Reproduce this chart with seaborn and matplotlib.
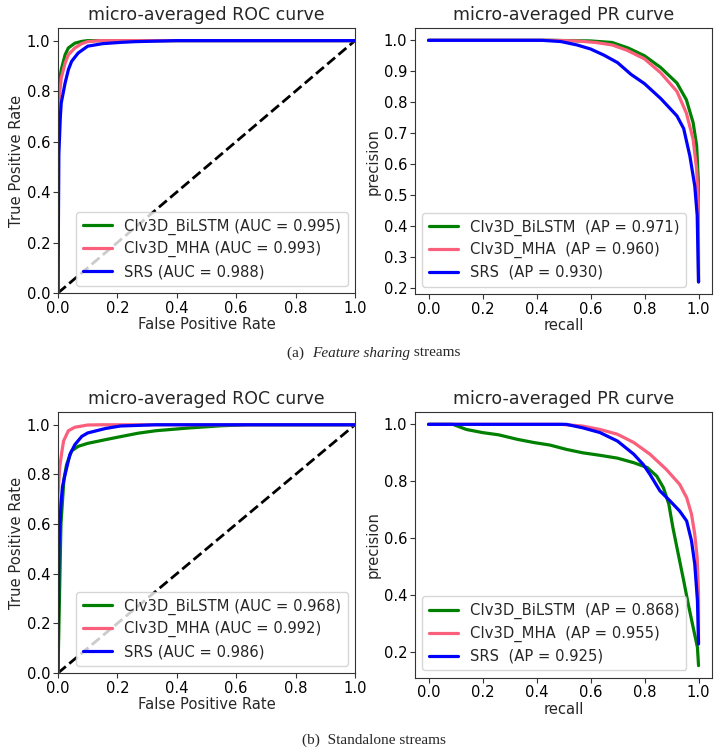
import matplotlib
matplotlib.use("Agg")
import matplotlib.pyplot as plt
import seaborn as sns
import pandas as pd

# ---------------- data ----------------
models = ["CIv3D_BiLSTM", "CIv3D_MHA", "SRS"]
colors = ["green", "#fa5f7c", "blue"]

# (a) feature sharing streams
auc_a = [0.995, 0.993, 0.988]
ap_a = [0.971, 0.960, 0.930]
roc_a_bilstm_fpr = [0, 0, 0.005, 0.011, 0.024, 0.035, 0.057, 0.08, 0.1, 1.0]
roc_a_bilstm_tpr = [0, 0.78, 0.84, 0.885, 0.944, 0.971, 0.99, 0.997, 1.0, 1.0]
roc_a_mha_fpr = [0, 0, 0.005, 0.011, 0.024, 0.035, 0.057, 0.08, 0.1, 0.14, 1.0]
roc_a_mha_tpr = [0, 0.7, 0.78, 0.852, 0.911, 0.944, 0.971, 0.988, 0.996, 1.0, 1.0]
roc_a_srs_fpr = [0, 0.003, 0.008, 0.011, 0.024, 0.035, 0.046, 0.068, 0.1, 0.15, 0.21, 0.26, 0.4, 1.0]
roc_a_srs_tpr = [0, 0.55, 0.7, 0.753, 0.832, 0.885, 0.918, 0.951, 0.978, 0.988, 0.993, 0.996, 1.0, 1.0]

pr_a_bilstm_rec = [0, 0.45, 0.6, 0.68, 0.74, 0.8, 0.86, 0.92, 0.955, 0.98, 0.993, 0.999, 1.0]
pr_a_bilstm_prec = [1, 1, 0.998, 0.993, 0.975, 0.95, 0.912, 0.862, 0.808, 0.734, 0.66, 0.55, 0.22]
pr_a_mha_rec = [0, 0.45, 0.55, 0.62, 0.68, 0.735, 0.8, 0.86, 0.92, 0.955, 0.98, 0.993, 0.999, 1.0]
pr_a_mha_prec = [1, 1, 0.998, 0.993, 0.985, 0.968, 0.94, 0.895, 0.835, 0.765, 0.68, 0.583, 0.477, 0.22]
pr_a_srs_rec = [0, 0.42, 0.49, 0.55, 0.6, 0.65, 0.7, 0.75, 0.8, 0.86, 0.92, 0.945, 0.968, 0.986, 0.995, 1.0]
pr_a_srs_prec = [1, 1, 0.996, 0.985, 0.972, 0.952, 0.928, 0.89, 0.86, 0.812, 0.756, 0.715, 0.626, 0.53, 0.435, 0.22]

# (b) standalone streams
auc_b = [0.968, 0.992, 0.986]
ap_b = [0.868, 0.955, 0.925]
roc_b_bilstm_fpr = [0, 0.005, 0.01, 0.02, 0.029, 0.046, 0.068, 0.1, 0.16, 0.21, 0.27, 0.33, 0.44, 0.55, 0.64, 1.0]
roc_b_bilstm_tpr = [0, 0.3, 0.6, 0.78, 0.84, 0.895, 0.913, 0.925, 0.94, 0.952, 0.966, 0.976, 0.987, 0.996, 1.0, 1.0]
roc_b_mha_fpr = [0, 0, 0.006, 0.0135, 0.019, 0.035, 0.057, 0.1, 0.15, 1.0]
roc_b_mha_tpr = [0, 0.72, 0.83, 0.895, 0.935, 0.976, 0.99, 0.999, 1.0, 1.0]
roc_b_srs_fpr = [0, 0.003, 0.01, 0.015, 0.024, 0.04, 0.057, 0.08, 0.1, 0.16, 0.21, 0.33, 1.0]
roc_b_srs_tpr = [0, 0.5, 0.68, 0.75, 0.8, 0.88, 0.92, 0.953, 0.967, 0.985, 0.995, 1.0, 1.0]

pr_b_bilstm_rec = [0, 0.09, 0.14, 0.2, 0.26, 0.33, 0.39, 0.45, 0.51, 0.57, 0.635, 0.7, 0.76, 0.81,
                   0.845, 0.87, 0.89, 0.905, 0.925, 0.945, 0.962, 0.98, 0.996, 1.0]
pr_b_bilstm_prec = [1, 1, 0.982, 0.971, 0.963, 0.947, 0.936, 0.927, 0.912, 0.9, 0.891, 0.881, 0.865, 0.848,
                    0.818, 0.777, 0.719, 0.637, 0.543, 0.45, 0.367, 0.286, 0.215, 0.151]
pr_b_mha_rec = [0, 0.49, 0.57, 0.635, 0.7, 0.76, 0.82, 0.88, 0.93, 0.956, 0.974, 0.986, 0.995, 1.0, 1.0]
pr_b_mha_prec = [1, 1, 0.994, 0.982, 0.965, 0.936, 0.895, 0.842, 0.789, 0.742, 0.684, 0.613, 0.531, 0.4, 0.23]
pr_b_srs_rec = [0, 0.51, 0.57, 0.635, 0.7, 0.76, 0.795, 0.82, 0.857, 0.894, 0.93, 0.956, 0.974, 0.986, 0.996, 1.0]
pr_b_srs_prec = [1, 1, 0.988, 0.971, 0.941, 0.895, 0.859, 0.824, 0.766, 0.731, 0.695, 0.66, 0.59, 0.508, 0.379, 0.227]

captions = [("(a)  ", "Feature sharing", " streams"), ("(b)  Standalone streams", "", "")]

# ---------------- style ----------------
sns.set_style("ticks")
plt.rcParams["font.family"] = ["DejaVu Sans"]
FS = 10.6
plt.rcParams.update({
    "axes.edgecolor": "#333333",
    "axes.linewidth": 0.8,
    "xtick.color": "#333333",
    "ytick.color": "#333333",
    "xtick.labelcolor": "black",
    "ytick.labelcolor": "black",
})

fig = plt.figure(figsize=(7.22, 7.53), dpi=100)
ax_tl = fig.add_axes([0.0803, 0.6109, 0.4114, 0.3519])
ax_tr = fig.add_axes([0.5748, 0.6096, 0.4114, 0.3529])
ax_bl = fig.add_axes([0.0803, 0.1062, 0.4114, 0.3462])
ax_br = fig.add_axes([0.5748, 0.1000, 0.4114, 0.3525])


def draw_roc(ax, xs, ys, aucs):
    ax.plot([0, 1], [0, 1], color="black", linestyle="--", lw=2)
    for name, c, x, y, a in zip(models, colors, xs, ys, aucs):
        df = pd.DataFrame({"fpr": x, "tpr": y})
        sns.lineplot(data=df, x="fpr", y="tpr", sort=False, estimator=None, color=c, lw=2.3,
                     ax=ax, label=f"{name} (AUC = {a:.3f})")
    ax.set_xlim(0, 1.0)
    ax.set_ylim(0, 1.05)
    ax.set_xlabel("False Positive Rate", fontsize=FS, labelpad=1)
    ax.set_ylabel("True Positive Rate", fontsize=FS, labelpad=2)
    ax.set_title("micro-averaged ROC curve", fontsize=12.5, pad=6)
    ax.tick_params(labelsize=FS, length=3.5, pad=2)
    ax.legend(loc="lower right", fontsize=FS, framealpha=0.8, edgecolor="#cccccc",
              handlelength=2.0, borderpad=0.45, labelspacing=0.45)


def draw_pr(ax, xs, ys, aps):
    for name, c, x, y, a in zip(models, colors, xs, ys, aps):
        df = pd.DataFrame({"recall": x, "precision": y})
        sns.lineplot(data=df, x="recall", y="precision", sort=False, estimator=None, color=c, lw=2.3,
                     ax=ax, label=f"{name}  (AP = {a:.3f})")
    ax.set_xticks([0, 0.2, 0.4, 0.6, 0.8, 1.0])
    ax.set_xlabel("recall", fontsize=FS, labelpad=1)
    ax.set_ylabel("precision", fontsize=FS, labelpad=2)
    ax.set_title("micro-averaged PR curve", fontsize=12.5, pad=6)
    ax.tick_params(labelsize=FS, length=3.5, pad=2)
    ax.legend(loc="lower left", fontsize=FS, framealpha=0.8, edgecolor="#cccccc",
              handlelength=2.0, borderpad=0.45, labelspacing=0.45)


draw_roc(ax_tl, [roc_a_bilstm_fpr, roc_a_mha_fpr, roc_a_srs_fpr],
         [roc_a_bilstm_tpr, roc_a_mha_tpr, roc_a_srs_tpr], auc_a)
draw_pr(ax_tr, [pr_a_bilstm_rec, pr_a_mha_rec, pr_a_srs_rec],
        [pr_a_bilstm_prec, pr_a_mha_prec, pr_a_srs_prec], ap_a)
draw_roc(ax_bl, [roc_b_bilstm_fpr, roc_b_mha_fpr, roc_b_srs_fpr],
         [roc_b_bilstm_tpr, roc_b_mha_tpr, roc_b_srs_tpr], auc_b)
draw_pr(ax_br, [pr_b_bilstm_rec, pr_b_mha_rec, pr_b_srs_rec],
        [pr_b_bilstm_prec, pr_b_mha_prec, pr_b_srs_prec], ap_b)

# ---------------- captions ----------------
renderer = fig.canvas.get_renderer()
cap_font = ["Liberation Serif", "DejaVu Serif"]


def caption(y, parts, xc=0.518):
    styles = ["normal", "italic", "normal"]
    texts = []
    for p, st in zip(parts, styles):
        if p:
            t = fig.text(0, y, p, fontsize=11, family=cap_font, style=st, va="center", ha="left")
            texts.append(t)
    widths = [t.get_window_extent(renderer).width / fig.bbox.width for t in texts]
    x = xc - sum(widths) / 2
    for t, w in zip(texts, widths):
        t.set_x(x)
        x += w


caption(1 - 353 / 753, captions[0])
caption(1 - 740 / 753, captions[1])

fig.savefig("out.png", dpi=100)
